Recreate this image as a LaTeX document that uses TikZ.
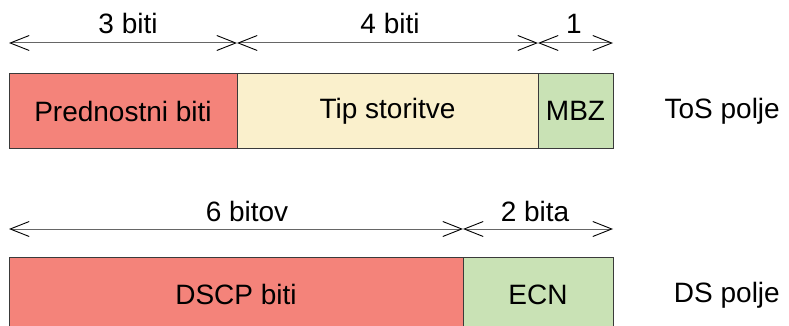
\documentclass[tikz,border=0pt]{standalone}
\usepackage{fontspec}
\setmainfont{Liberation Sans}
\usetikzlibrary{arrows.meta}

\definecolor{fieldred}{HTML}{F4837A}
\definecolor{fieldcream}{HTML}{FAF0CC}
\definecolor{fieldgreen}{HTML}{C9E2B5}
\definecolor{edgegray}{HTML}{3A3A3A}
\definecolor{shaftgray}{HTML}{666666}

\tikzset{
  field/.style={draw=edgegray, line width=1pt, rectangle, inner sep=0pt,
    outer sep=0pt, anchor=north west, minimum height=74pt,
    font=\fontsize{28}{34}\selectfont},
  dimline/.style={draw=shaftgray, line width=1pt,
    {Straight Barb[length=19pt,width=15pt,line width=0.9pt,color=black]}-{Straight Barb[length=19pt,width=15pt,line width=0.9pt,color=black]}},
  dimlabel/.style={anchor=base, inner sep=0pt, font=\fontsize{28}{34}\selectfont},
  fieldname/.style={anchor=east, inner sep=0pt, font=\fontsize{28}{34}\selectfont},
}

\begin{document}
\begin{tikzpicture}[x=1pt, y=-1pt]
  \useasboundingbox (0,0) rectangle (789,326);

  % ToS field (8 bits)
  \node[field, fill=fieldred,   minimum width=228pt] (prec) at (9,74)   {Prednostni biti};
  \node[field, fill=fieldcream, minimum width=301pt] (tip)  at (237,74) {Tip storitve};
  \node[field, fill=fieldgreen, minimum width=75pt]  (mbz)  at (538,74) {MBZ};
  \node[fieldname] (tos) at (780,111) {ToS polje};

  % DS field (8 bits)
  \node[field, fill=fieldred,   minimum width=454pt] (dscp) at (9,257.5)   {DSCP biti};
  \node[field, fill=fieldgreen, minimum width=150pt] (ecn)  at (463,257.5) {ECN};
  \node[fieldname] (ds) at (780,295) {DS polje};

  % bit-width dimension lines above the ToS field
  \coordinate (t0) at (prec.west |- 0,43);
  \coordinate (t1) at (tip.west |- 0,43);
  \coordinate (t2) at (mbz.west |- 0,43);
  \coordinate (t3) at (mbz.east |- 0,43);
  \draw[dimline] (t0) -- (t1);
  \draw[dimline] (t1) -- (t2);
  \draw[dimline] (t2) -- (t3);
  \node[dimlabel] (l3) at (128,34) {3 biti};
  \node[dimlabel] (l4) at (390,34) {4 biti};
  \node[dimlabel] (l1) at (574,34) {1};

  % bit-width dimension lines above the DS field
  \coordinate (b0) at (dscp.west |- 0,229);
  \coordinate (b1) at (ecn.west |- 0,229);
  \coordinate (b2) at (ecn.east |- 0,229);
  \draw[dimline] (b0) -- (b1);
  \draw[dimline] (b1) -- (b2);
  \node[dimlabel] (l6) at (247,221) {6 bitov};
  \node[dimlabel] (l2) at (535,221) {2 bita};
\end{tikzpicture}
\end{document}
